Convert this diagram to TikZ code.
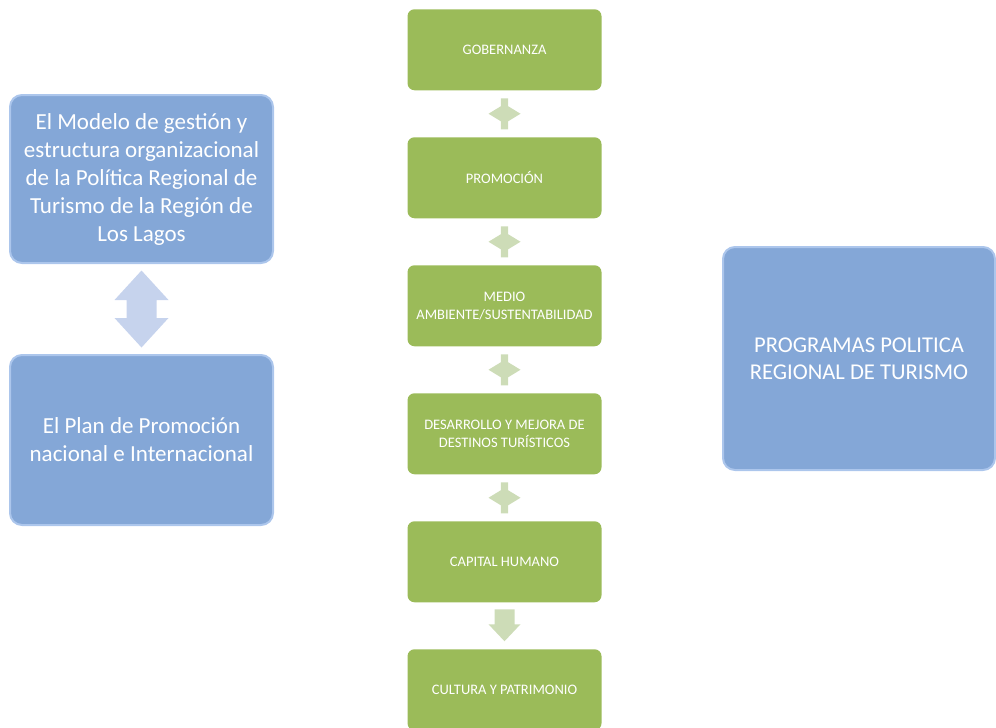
\documentclass[tikz,border=0pt]{standalone}
\usepackage{fontspec}
\setmainfont{Carlito}
\usetikzlibrary{calc}

\definecolor{boxblue}{RGB}{132,167,215}
\definecolor{glowblue}{RGB}{172,198,236}
\definecolor{arrowblue}{RGB}{198,211,237}
\definecolor{boxgreen}{RGB}{155,187,89}
\definecolor{arrowgreen}{RGB}{205,220,183}

\begin{document}
\begin{tikzpicture}[x=1pt,y=-1pt,
		bluebox/.style={rectangle, rounded corners=12pt, fill=boxblue, draw=glowblue, line width=2pt, text=white, align=center, inner sep=0pt, font=\fontsize{23}{28}\selectfont},
		greenbox/.style={rectangle, rounded corners=7pt, fill=boxgreen, text=white, align=center, inner sep=0pt, minimum width=194pt, minimum height=81pt, font=\fontsize{14.5}{18}\selectfont}]
				\clip (0,0) rectangle (996,728);
				
				% Left boxes
				\node[bluebox, minimum width=263pt, minimum height=168pt] (modelo) at (141.5,179) {El Modelo de gestión y\\estructura organizacional\\de la Política Regional de\\Turismo de la Región de\\Los Lagos};
				\node[bluebox, minimum width=263pt, minimum height=170pt] (plan) at (141.5,440) {El Plan de Promoción\\nacional e Internacional};
				
				% Right box
				\node[bluebox, minimum width=272pt, minimum height=223pt, font=\fontsize{22.6}{27}\selectfont] (prog) at (859,358.5) {PROGRAMAS POLITICA\\REGIONAL DE TURISMO};
				
				% Green column
				\node[greenbox] (gob) at (504.5,49.75) {GOBERNANZA};
				\node[greenbox] (pro) at (504.5,177.75) {PROMOCIÓN};
				\node[greenbox] (med) at (504.5,305.75) {MEDIO\\AMBIENTE/SUSTENTABILIDAD};
				\node[greenbox] (des) at (504.5,433.75) {DESARROLLO Y MEJORA DE\\DESTINOS TURÍSTICOS};
				\node[greenbox] (cap) at (504.5,561.75) {CAPITAL HUMANO};
				\node[greenbox] (cul) at (504.5,689.75) {CULTURA Y PATRIMONIO};
				
				% Blue double arrow
				\fill[arrowblue, shift={($(modelo.south)!0.5!(plan.north)$)}] (0,-38.5) -- (27,-9) -- (15,-9) -- (15,9) -- (27,9) -- (0,38.5) -- (-27,9) -- (-15,9) -- (-15,-9) -- (-27,-9) -- cycle;
				
				% Green double arrows
				\foreach \a/\b in {gob/pro, pro/med, med/des, des/cap}
				\fill[arrowgreen, shift={($(\a.south)!0.5!(\b.north)$)}] (-3.7,-15.5) -- (3.7,-15.5) -- (3.7,-7.5) -- (16,0) -- (3.7,7.5) -- (3.7,15.5) -- (-3.7,15.5) -- (-3.7,7.5) -- (-16,0) -- (-3.7,-7.5) -- cycle;
				
				% Last arrow, pointing down
				\fill[arrowgreen, shift={($(cap.south)!0.5!(cul.north)$)}] (-10,-16.5) -- (10,-16.5) -- (10,-1.5) -- (16,-1.5) -- (0,15.5) -- (-16,-1.5) -- (-10,-1.5) -- cycle;
			\end{tikzpicture}
\end{document}
